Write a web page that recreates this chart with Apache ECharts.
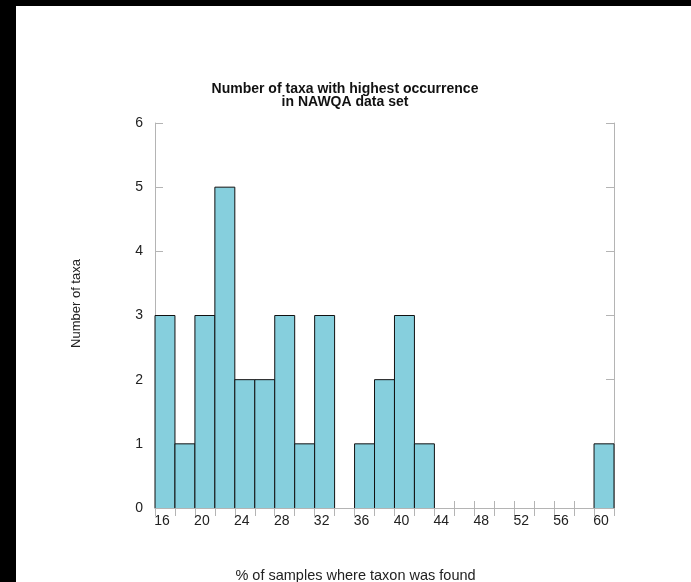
<!DOCTYPE html>
<html>
<head>
<meta charset="utf-8">
<script src="https://cdn.jsdelivr.net/npm/echarts@6/dist/echarts.min.js"></script>
<style>
  html, body { margin: 0; padding: 0; background: #fff; }
  #hist { width: 691px; height: 582px; }
</style>
</head>
<body>
<div id="hist"></div>
<script>
// histogram bins (left edge, width 2) and counts
const binLeft = [15, 17, 19, 21, 23, 25, 27, 29, 31, 33, 35, 37, 39, 41, 43, 45, 47, 49, 51, 53, 55, 57, 59];
const binCount = [3, 1, 3, 5, 2, 2, 3, 1, 3, 0, 1, 2, 3, 1, 0, 0, 0, 0, 0, 0, 0, 0, 1];
const binWidth = 2;
const xLabels = [16, 20, 24, 28, 32, 36, 40, 44, 48, 52, 56, 60];
const yLabels = [0, 1, 2, 3, 4, 5, 6];

const xMin = binLeft[0];
const xMax = binLeft[binLeft.length - 1] + binWidth;

const chart = echarts.init(document.getElementById('hist'));

const axisGray = '#b4b4b4';
const font = '"Liberation Sans", Arial, sans-serif';

const bottomX = {
  type: 'value',
  min: xMin,
  max: xMax,
  interval: binWidth,
  axisLine: { show: true, lineStyle: { color: axisGray } },
  axisTick: { show: true, inside: true, length: 7, lineStyle: { color: axisGray } },
  axisLabel: { customValues: xLabels, margin: 6, color: '#222', fontSize: 14, fontFamily: font, padding: [0, 6, 0, 0] },
  splitLine: { show: false },
  name: '% of samples where taxon was found',
  nameLocation: 'middle',
  nameGap: 60,
  nameTextStyle: { color: '#222', fontSize: 14.5, fontFamily: font, padding: [0, 58, 0, 0] }
};

const topX = {
  type: 'value',
  position: 'top',
  min: xMin,
  max: xMax,
  interval: binWidth,
  axisLine: { show: true, lineStyle: { color: axisGray } },
  axisTick: { show: true, inside: true, length: 8, lineStyle: { color: axisGray } },
  axisLabel: { show: false },
  splitLine: { show: false }
};

const leftY = {
  type: 'value',
  min: 0,
  max: yLabels[yLabels.length - 1],
  interval: 1,
  axisLine: { show: true, lineStyle: { color: axisGray } },
  axisTick: { show: true, inside: true, length: 8, lineStyle: { color: axisGray } },
  axisLabel: { margin: 12, color: '#222', fontSize: 14, fontFamily: font },
  splitLine: { show: false },
  name: 'Number of taxa',
  nameLocation: 'middle',
  nameGap: 72,
  nameTextStyle: { color: '#222', fontSize: 13, fontFamily: font, padding: [0, 0, 0, 24] }
};

const rightY = {
  type: 'value',
  position: 'right',
  min: 0,
  max: yLabels[yLabels.length - 1],
  interval: 1,
  axisLine: { show: true, lineStyle: { color: axisGray } },
  axisTick: { show: true, inside: true, length: 8, lineStyle: { color: axisGray } },
  axisLabel: { show: false },
  splitLine: { show: false }
};

const option = {
  backgroundColor: '#fff',
  animation: false,
  title: {
    text: 'Number of taxa with highest occurrence\nin NAWQA data set',
    left: 340,
    top: 78,
    textAlign: 'center',
    textStyle: { fontSize: 14, fontWeight: 'bold', color: '#111', lineHeight: 13, fontFamily: font }
  },
  grid: { left: 155, right: 77, top: 123, bottom: 74, outerBoundsMode: 'none' },
  xAxis: [bottomX, topX],
  yAxis: [leftY, rightY],
  graphic: [
    { type: 'rect', left: 0, top: 0, shape: { width: 16, height: 582 }, style: { fill: '#000' } },
    { type: 'rect', left: 0, top: 0, shape: { width: 691, height: 6 }, style: { fill: '#000' } }
  ],
  series: [
    {
      type: 'custom',
      xAxisIndex: 0,
      yAxisIndex: 0,
      z: 1,
      data: binLeft.map((x, i) => [x, binCount[i]]),
      renderItem: function (params, api) {
        const x0 = api.value(0);
        const n = api.value(1);
        if (!n) return null;
        const p0 = api.coord([x0, 0]);
        const p1 = api.coord([x0 + binWidth, n]);
        return {
          type: 'group',
          children: [
            {
              type: 'rect',
              shape: { x: p0[0], y: p1[1], width: p1[0] - p0[0], height: p0[1] - p1[1] },
              style: { fill: '#86cfdd' }
            },
            {
              type: 'polyline',
              shape: { points: [[p0[0], p0[1]], [p0[0], p1[1]], [p1[0], p1[1]], [p1[0], p0[1]]] },
              style: { fill: null, stroke: '#111', lineWidth: 1 }
            }
          ]
        };
      }
    }
  ]
};

chart.setOption(option);

window.addEventListener('resize', () => {
  chart.resize();
});
</script>
</body>
</html>
